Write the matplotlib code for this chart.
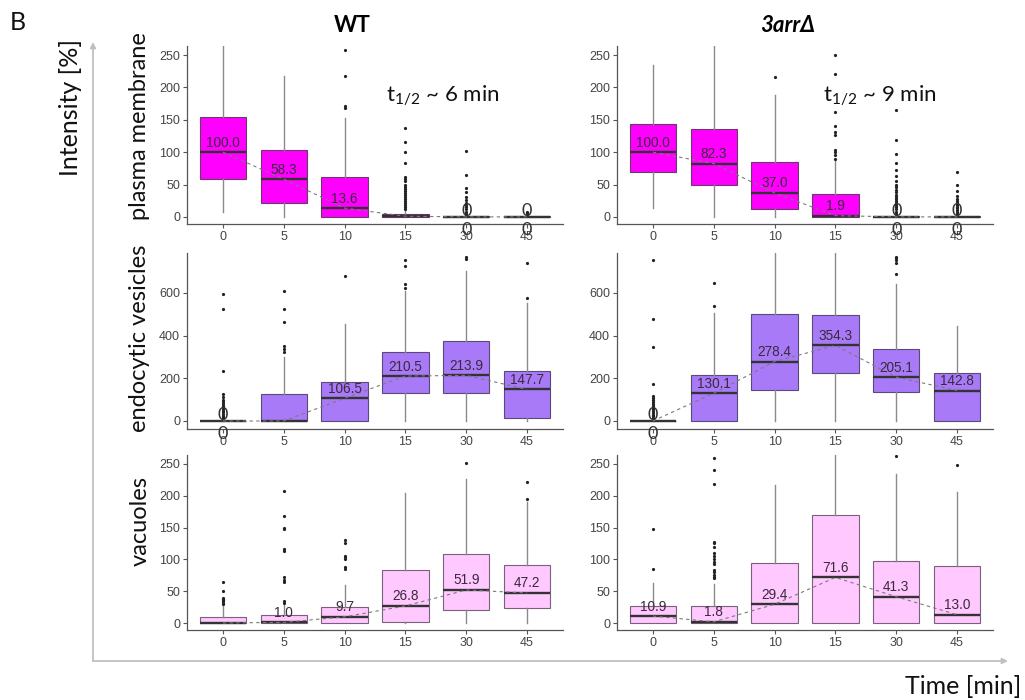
import matplotlib
matplotlib.use("Agg")
import matplotlib.pyplot as plt

W, H = 1025, 700

times = ["0", "5", "10", "15", "30", "45"]
strains = ["WT", "3arrΔ"]
compartments = ["plasma membrane", "endocytic vesicles", "vacuoles"]
half_life = ["t$_{\\mathregular{1/2}}$ ~ 6 min", "t$_{\\mathregular{1/2}}$ ~ 9 min"]

# ---- plasma membrane, WT ----
pm_wt_q1 = [59, 22, 0, 0, 0, 0]
pm_wt_med = [100.0, 58.3, 13.6, 1.0, 0, 0]
pm_wt_q3 = [154, 104, 62, 4.6, 1.0, 0.8]
pm_wt_lo = [8, 0, 0, 0, 0, 0]
pm_wt_hi = [270, 218, 152, 10, 2, 1.5]
pm_wt_fl = [[], [], [168, 172, 218, 258],
            [12, 15, 18, 22, 25, 28, 31, 34, 37, 40, 43, 46, 50, 55, 58, 62, 84, 100, 116, 137],
            [3, 5, 8, 12, 15, 18, 22, 26, 30, 38, 44, 64, 102],
            [3, 6, 8]]
pm_wt_lab = ["100.0", "58.3", "13.6", None, "0", "0"]

# ---- plasma membrane, 3arrΔ ----
pm_mu_q1 = [69, 49, 12, 0, 0, 0]
pm_mu_med = [100.0, 82.3, 37.0, 1.9, 0, 0]
pm_mu_q3 = [144, 136, 85, 35, 2, 1]
pm_mu_lo = [13, 0, 0, 0, 0, 0]
pm_mu_hi = [234, 270, 189, 88, 4, 2]
pm_mu_fl = [[], [], [216],
            [90, 95, 100, 104, 127, 131, 141, 162, 220, 250],
            [5, 8, 12, 15, 18, 21, 24, 27, 30, 34, 38, 42, 46, 50, 55, 63, 73, 84, 97, 119, 165],
            [4, 7, 10, 13, 16, 19, 22, 25, 28, 33, 40, 50, 70]]
pm_mu_lab = ["100.0", "82.3", "37.0", "1.9", "0", "0"]

# ---- endocytic vesicles, WT ----
ev_wt_q1 = [0, 0, 0, 133, 130, 12]
ev_wt_med = [0, 0, 106.5, 210.5, 213.9, 147.7]
ev_wt_q3 = [2, 127, 185, 323, 373, 232]
ev_wt_lo = [0, 0, 0, 0, 0, 0]
ev_wt_hi = [8, 300, 453, 608, 702, 553]
ev_wt_fl = [[12, 18, 25, 32, 40, 48, 56, 64, 72, 80, 90, 100, 112, 125, 235, 525, 597],
            [322, 335, 350, 462, 525, 608],
            [679],
            [625, 640, 725, 755, 800],
            [760, 770],
            [574, 738]]
ev_wt_lab = ["0", None, "106.5", "210.5", "213.9", "147.7"]

# ---- endocytic vesicles, 3arrΔ ----
ev_mu_q1 = [0, 0, 143, 224, 136, 0]
ev_mu_med = [0, 130.1, 278.4, 354.3, 205.1, 142.8]
ev_mu_q3 = [2, 216, 502, 498, 338, 227]
ev_mu_lo = [0, 0, 0, 0, 0, 0]
ev_mu_hi = [10, 505, 800, 800, 642, 447]
ev_mu_fl = [[15, 22, 30, 38, 46, 54, 62, 70, 80, 90, 100, 110, 118, 172, 347, 480, 752],
            [540, 645], [], [],
            [690, 740, 752, 762, 770], []]
ev_mu_lab = ["0", "130.1", "278.4", "354.3", "205.1", "142.8"]

# ---- vacuoles, WT ----
va_wt_q1 = [0, 0, 0, 1, 20, 23.6]
va_wt_med = [0, 1.0, 9.7, 26.8, 51.9, 47.2]
va_wt_q3 = [9, 12, 25, 83, 109, 91]
va_wt_lo = [0, 0, 0, 0, 0, 0]
va_wt_hi = [28, 28, 60, 205, 226, 190]
va_wt_fl = [[30, 32, 34, 36, 38, 40, 50, 65],
            [32, 35, 65, 68, 72, 113, 117, 148, 150, 168, 207],
            [85, 88, 100, 103, 106, 125, 130],
            [], [251], [195, 221]]
va_wt_lab = [None, "1.0", "9.7", "26.8", "51.9", "47.2"]

# ---- vacuoles, 3arrΔ ----
va_mu_q1 = [0, 0, 0, 0, 0, 0]
va_mu_med = [10.9, 1.8, 29.4, 71.6, 41.3, 13.0]
va_mu_q3 = [26.7, 27, 95, 170, 97.5, 90]
va_mu_lo = [0, 0, 0, 0, 0, 0]
va_mu_hi = [63, 62, 217, 270, 234, 206]
va_mu_fl = [[85, 148],
            [70, 73, 76, 80, 83, 92, 96, 100, 105, 110, 120, 125, 128, 218, 240, 260],
            [], [], [262], [249]]
va_mu_lab = ["10.9", "1.8", "29.4", "71.6", "41.3", "13.0"]

panels = [
    [(pm_wt_q1, pm_wt_med, pm_wt_q3, pm_wt_lo, pm_wt_hi, pm_wt_fl, pm_wt_lab),
     (pm_mu_q1, pm_mu_med, pm_mu_q3, pm_mu_lo, pm_mu_hi, pm_mu_fl, pm_mu_lab)],
    [(ev_wt_q1, ev_wt_med, ev_wt_q3, ev_wt_lo, ev_wt_hi, ev_wt_fl, ev_wt_lab),
     (ev_mu_q1, ev_mu_med, ev_mu_q3, ev_mu_lo, ev_mu_hi, ev_mu_fl, ev_mu_lab)],
    [(va_wt_q1, va_wt_med, va_wt_q3, va_wt_lo, va_wt_hi, va_wt_fl, va_wt_lab),
     (va_mu_q1, va_mu_med, va_mu_q3, va_mu_lo, va_mu_hi, va_mu_fl, va_mu_lab)],
]

row_colors = ["#FF00FF", "#A87AF8", "#FFC8FF"]
row_edges = ["#6a3a6a", "#5a4a7a", "#7a607a"]
row_ylim = [(-11, 264), (-37.5, 787), (-11, 264)]
row_yticks = [[0, 50, 100, 150, 200, 250], [0, 200, 400, 600], [0, 50, 100, 150, 200, 250]]
row_ypx = [(46, 224), (253, 429), (455, 630)]
col_xpx = [(187, 563), (617, 993)]

plt.rcParams['mathtext.fontset'] = 'custom'
plt.rcParams['mathtext.rm'] = 'Lato'
label_font = ['Lato', 'DejaVu Sans']
num_font = ['Liberation Sans', 'DejaVu Sans']

fig = plt.figure(figsize=(W / 100, H / 100), dpi=100)


def fx(x):
    return x / W


def fy(y):
    return 1 - y / H


for r in range(3):
    for c in range(2):
        x0, x1 = col_xpx[c]
        y0, y1 = row_ypx[r]
        ax = fig.add_axes([fx(x0), fy(y1), (x1 - x0) / W, (y1 - y0) / H])
        q1, med, q3, lo, hi, fl, lab = panels[r][c]
        stats = [dict(q1=q1[i], med=med[i], q3=q3[i], whislo=lo[i], whishi=hi[i], fliers=fl[i])
                 for i in range(len(times))]
        pos = list(range(len(times)))
        ax.bxp(stats, positions=pos, widths=0.76, showcaps=False, patch_artist=True,
               boxprops=dict(facecolor=row_colors[r], edgecolor=row_edges[r], linewidth=0.8),
               whiskerprops=dict(color="#8a8a8a", linewidth=1.0),
               medianprops=dict(color="#333333", linewidth=1.7),
               flierprops=dict(marker="o", markersize=2.3, markerfacecolor="#222222",
                               markeredgecolor="none"))
        ax.plot(pos, med, linestyle=(0, (3, 3)), color="#7a7a7a", linewidth=0.8, zorder=4)
        for i, t in enumerate(lab):
            if t is None:
                continue
            if t == "0":
                for dy in (6, -13):
                    ax.annotate("0", (pos[i], med[i]), xytext=(0, dy), textcoords="offset pixels",
                                ha="center", va="center", fontsize=13, family=label_font,
                                color="#333333", annotation_clip=False, zorder=6)
            else:
                ax.annotate(t, (pos[i], med[i]), xytext=(0, 9.5), textcoords="offset pixels",
                            ha="center", va="center", fontsize=9.8, family=num_font,
                            color="#3a2a3a", zorder=6)
        ax.set_xlim(-0.59, 5.59)
        ax.set_ylim(*row_ylim[r])
        ax.set_yticks(row_yticks[r])
        ax.set_xticks(pos)
        ax.set_xticklabels(times)
        for s in ("top", "right"):
            ax.spines[s].set_visible(False)
        for s in ("left", "bottom"):
            ax.spines[s].set_color("#555555")
            ax.spines[s].set_linewidth(0.9)
        ax.tick_params(length=3, width=0.8, color="#555555", labelcolor="#444444",
                       labelsize=9, pad=2)
        for tl in ax.get_xticklabels() + ax.get_yticklabels():
            tl.set_family(num_font)
        ax.set_facecolor("none")
        if r == 0:
            ax.text(0.68 if c == 0 else 0.70, 0.72, half_life[c], transform=ax.transAxes,
                    ha="center", va="center", fontsize=16, family=label_font, color="#111111")

# titles
fig.text(fx(352), fy(26), strains[0], ha="center", va="center", fontsize=16,
         fontweight="bold", family=label_font)
fig.text(fx(788), fy(26), strains[1], ha="center", va="center", fontsize=16,
         fontweight="bold", fontstyle="italic", family=label_font)

# row labels
row_label_y = [126, 338, 521]
for r in range(3):
    fig.text(fx(140), fy(row_label_y[r]), compartments[r], rotation=90, ha="center",
             va="center", fontsize=17, family=label_font, color="#111111")

fig.text(fx(71), fy(108), "Intensity [%]", rotation=90, ha="center", va="center",
         fontsize=18, family=label_font, color="#111111")
fig.text(fx(963), fy(686), "Time [min]", ha="center", va="center", fontsize=18,
         family=label_font, color="#111111")
fig.text(fx(18), fy(22), "B", ha="center", va="center", fontsize=18, family=label_font,
         color="#111111")

# axis arrows
arrow = dict(arrowstyle="-|>", color="#c0c0c0", lw=1.3, mutation_scale=8, shrinkA=0, shrinkB=0)
fig.add_artist(matplotlib.patches.FancyArrowPatch((fx(93), fy(661)), (fx(93), fy(42)),
                                                  transform=fig.transFigure, **arrow))
fig.add_artist(matplotlib.patches.FancyArrowPatch((fx(93), fy(661)), (fx(1008), fy(661)),
                                                  transform=fig.transFigure, **arrow))

fig.savefig("out.png", dpi=100)
